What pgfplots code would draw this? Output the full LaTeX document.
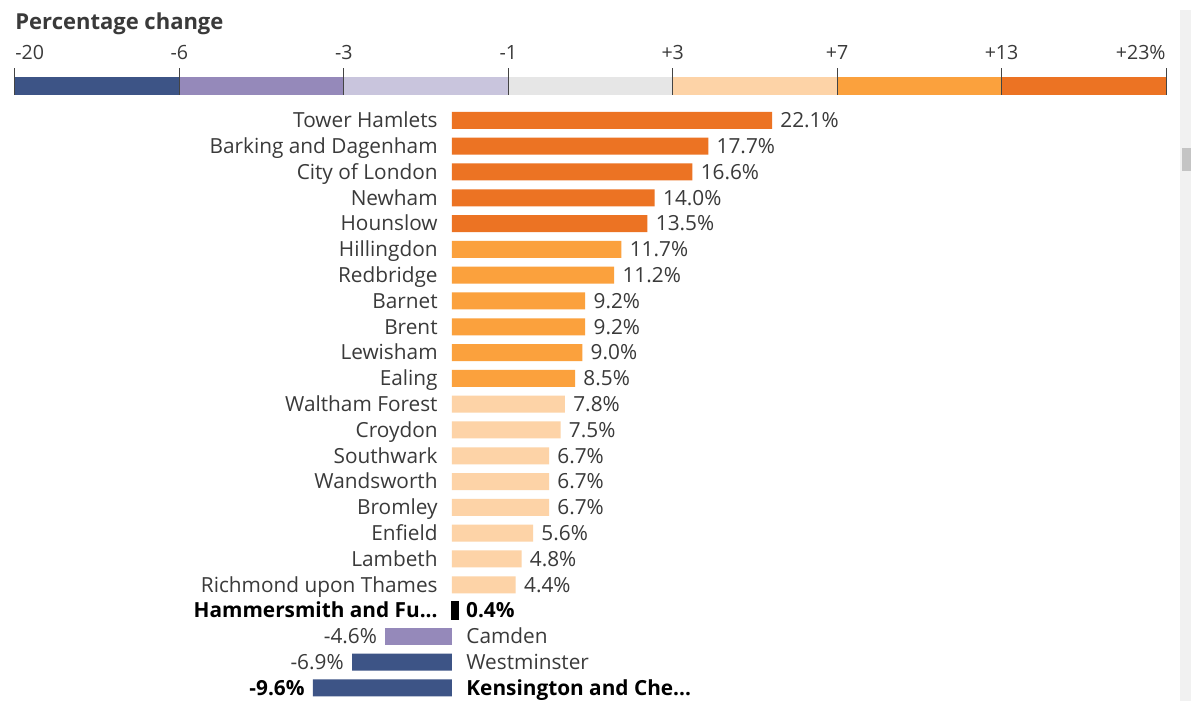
\documentclass[border=0pt]{standalone}
\usepackage{pgfplots}
\pgfplotsset{compat=1.18}
\usepackage{fontspec}
\setmainfont{Open Sans}
\definecolor{cDark}{HTML}{EC7323}
\definecolor{cMid}{HTML}{FBA13D}
\definecolor{cLight}{HTML}{FDD3A7}
\definecolor{cGray}{HTML}{E6E6E6}
\definecolor{cLPurp}{HTML}{C9C5DD}
\definecolor{cPurp}{HTML}{9589BA}
\definecolor{cNavy}{HTML}{3D5486}
\definecolor{txt}{HTML}{3A3A3A}
\definecolor{tickc}{HTML}{444444}
\definecolor{sbtrack}{HTML}{F1F1F1}
\definecolor{sbthumb}{HTML}{C4C4C4}
\newcommand{\lf}{\fontsize{10.4}{12}\selectfont}
\begin{document}
\begin{tikzpicture}[x=0.5pt,y=0.5pt]
\fill[white] (0,0) rectangle (1191,701);
\fill[sbtrack] (1180,0) rectangle (1191,691);
\fill[sbthumb] (1182,530) rectangle (1191,553);
% ---------- colour key ----------
\begin{axis}[at={(0,0)}, anchor=south west, scale only axis,
  width=595.5pt, height=350.5pt,
  xmin=-0.09122, xmax=7.1520, ymin=-33.667, ymax=5.2778,
  axis lines=none, clip=false]
\addplot[fill=cNavy, draw=none] coordinates {(0,0)(0,1)(1,1)(1,0)} -- cycle;
\addplot[fill=cPurp, draw=none] coordinates {(1,0)(1,1)(2,1)(2,0)} -- cycle;
\addplot[fill=cLPurp, draw=none] coordinates {(2,0)(2,1)(3,1)(3,0)} -- cycle;
\addplot[fill=cGray, draw=none] coordinates {(3,0)(3,1)(4,1)(4,0)} -- cycle;
\addplot[fill=cLight, draw=none] coordinates {(4,0)(4,1)(5,1)(5,0)} -- cycle;
\addplot[fill=cMid, draw=none] coordinates {(5,0)(5,1)(6,1)(6,0)} -- cycle;
\addplot[fill=cDark, draw=none] coordinates {(6,0)(6,1)(7,1)(7,0)} -- cycle;
\addplot[ycomb, draw=tickc, line width=0.5pt, mark=none] coordinates {(0,1.5)(1,1.5)(2,1.5)(3,1.5)(4,1.5)(5,1.5)(6,1.5)(7,1.5)};
\begin{scope}[every node/.style={inner sep=0pt, font=\fontsize{9.8}{11}\selectfont, text=txt}]
\node[anchor=base west] at (axis cs:0,1.944) {-20};
\node[anchor=base] at (axis cs:1,1.944) {-6};
\node[anchor=base] at (axis cs:2,1.944) {-3};
\node[anchor=base] at (axis cs:3,1.944) {-1};
\node[anchor=base] at (axis cs:4,1.944) {+3};
\node[anchor=base] at (axis cs:5,1.944) {+7};
\node[anchor=base] at (axis cs:6,1.944) {+13};
\node[anchor=base east] at (axis cs:7,1.944) {+23\%};
\node[anchor=base west, font=\fontsize{11}{13}\selectfont\bfseries, text=txt] at (axis cs:0,3.61) {Percentage change};
\end{scope}
\end{axis}
% ---------- bars ----------
\begin{axis}[at={(0,0)}, anchor=south west, scale only axis,
  width=595.5pt, height=350.5pt,
  xmin=-31.215, xmax=51.036, ymin=-0.5039, ymax=26.667,
  axis lines=none, clip=false,
  xbar, bar width=8.5pt, bar shift=0pt]
\addplot[fill=cDark, draw=none] coordinates {(22.1,22) (17.7,21) (16.6,20) (14.0,19) (13.5,18)};
\addplot[fill=cMid, draw=none] coordinates {(11.7,17) (11.2,16) (9.2,15) (9.2,14) (9.0,13) (8.5,12)};
\addplot[fill=cLight, draw=none] coordinates {(7.8,11) (7.5,10) (6.7,9) (6.7,8) (6.7,7) (5.6,6) (4.8,5) (4.4,4)};
\addplot[fill=black, draw=black, line width=1pt] coordinates {(0.4,3)};
\addplot[fill=cPurp, draw=none] coordinates {(-4.6,2)};
\addplot[fill=cNavy, draw=none] coordinates {(-6.9,1) (-9.6,0)};
\begin{scope}[every node/.style={inner sep=0pt, font=\lf, text=txt, yshift=-3.7pt}]
\node[anchor=base east, xshift=-7pt] at (axis cs:0,22) {Tower Hamlets};
\node[anchor=base east, xshift=-7pt] at (axis cs:0,21) {Barking and Dagenham};
\node[anchor=base east, xshift=-7pt] at (axis cs:0,20) {City of London};
\node[anchor=base east, xshift=-7pt] at (axis cs:0,19) {Newham};
\node[anchor=base east, xshift=-7pt] at (axis cs:0,18) {Hounslow};
\node[anchor=base east, xshift=-7pt] at (axis cs:0,17) {Hillingdon};
\node[anchor=base east, xshift=-7pt] at (axis cs:0,16) {Redbridge};
\node[anchor=base east, xshift=-7pt] at (axis cs:0,15) {Barnet};
\node[anchor=base east, xshift=-7pt] at (axis cs:0,14) {Brent};
\node[anchor=base east, xshift=-7pt] at (axis cs:0,13) {Lewisham};
\node[anchor=base east, xshift=-7pt] at (axis cs:0,12) {Ealing};
\node[anchor=base east, xshift=-7pt] at (axis cs:0,11) {Waltham Forest};
\node[anchor=base east, xshift=-7pt] at (axis cs:0,10) {Croydon};
\node[anchor=base east, xshift=-7pt] at (axis cs:0,9) {Southwark};
\node[anchor=base east, xshift=-7pt] at (axis cs:0,8) {Wandsworth};
\node[anchor=base east, xshift=-7pt] at (axis cs:0,7) {Bromley};
\node[anchor=base east, xshift=-7pt] at (axis cs:0,6) {Enfield};
\node[anchor=base east, xshift=-7pt] at (axis cs:0,5) {Lambeth};
\node[anchor=base east, xshift=-7pt] at (axis cs:0,4) {Richmond upon Thames};
\node[anchor=base east, xshift=-7pt, text=black, font=\lf\bfseries] at (axis cs:0,3) {Hammersmith and Fu...};
\node[anchor=base west, xshift=7pt] at (axis cs:0,2) {Camden};
\node[anchor=base west, xshift=7pt] at (axis cs:0,1) {Westminster};
\node[anchor=base west, xshift=7pt, text=black, font=\lf\bfseries] at (axis cs:0,0) {Kensington and Che...};
% values
\node[anchor=base west, xshift=4pt] at (axis cs:22.1,22) {22.1\%};
\node[anchor=base west, xshift=4pt] at (axis cs:17.7,21) {17.7\%};
\node[anchor=base west, xshift=4pt] at (axis cs:16.6,20) {16.6\%};
\node[anchor=base west, xshift=4pt] at (axis cs:14.0,19) {14.0\%};
\node[anchor=base west, xshift=4pt] at (axis cs:13.5,18) {13.5\%};
\node[anchor=base west, xshift=4pt] at (axis cs:11.7,17) {11.7\%};
\node[anchor=base west, xshift=4pt] at (axis cs:11.2,16) {11.2\%};
\node[anchor=base west, xshift=4pt] at (axis cs:9.2,15) {9.2\%};
\node[anchor=base west, xshift=4pt] at (axis cs:9.2,14) {9.2\%};
\node[anchor=base west, xshift=4pt] at (axis cs:9.0,13) {9.0\%};
\node[anchor=base west, xshift=4pt] at (axis cs:8.5,12) {8.5\%};
\node[anchor=base west, xshift=4pt] at (axis cs:7.8,11) {7.8\%};
\node[anchor=base west, xshift=4pt] at (axis cs:7.5,10) {7.5\%};
\node[anchor=base west, xshift=4pt] at (axis cs:6.7,9) {6.7\%};
\node[anchor=base west, xshift=4pt] at (axis cs:6.7,8) {6.7\%};
\node[anchor=base west, xshift=4pt] at (axis cs:6.7,7) {6.7\%};
\node[anchor=base west, xshift=4pt] at (axis cs:5.6,6) {5.6\%};
\node[anchor=base west, xshift=4pt] at (axis cs:4.8,5) {4.8\%};
\node[anchor=base west, xshift=4pt] at (axis cs:4.4,4) {4.4\%};
\node[anchor=base west, xshift=4pt, text=black, font=\lf\bfseries] at (axis cs:0.4,3) {0.4\%};
\node[anchor=base east, xshift=-4pt] at (axis cs:-4.6,2) {-4.6\%};
\node[anchor=base east, xshift=-4pt] at (axis cs:-6.9,1) {-6.9\%};
\node[anchor=base east, xshift=-4pt, text=black, font=\lf\bfseries] at (axis cs:-9.6,0) {-9.6\%};
\end{scope}
\end{axis}
\end{tikzpicture}
\end{document}
